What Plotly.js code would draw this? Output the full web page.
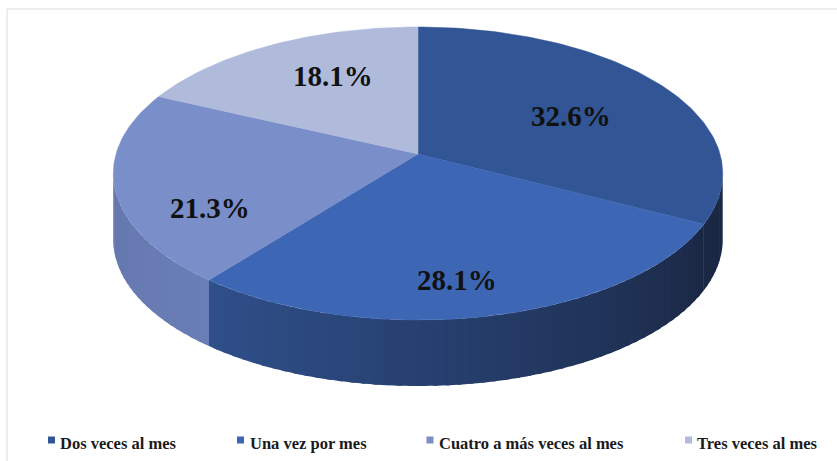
<!DOCTYPE html>
<html>
<head>
<meta charset="utf-8">
<script src="https://cdn.plot.ly/plotly-3.0.1.min.js"></script>
<style>html,body{margin:0;padding:0;background:#fff;}#chart{width:837px;height:461px;}</style>
</head>
<body>
<div id="chart"></div>
<script>
// ---- data ----
const categories = ['Dos veces al mes', 'Una vez por mes', 'Cuatro a más veces al mes', 'Tres veces al mes'];
const values = [32.6, 28.1, 21.3, 18.1];
const percentLabels = ['32.6%', '28.1%', '21.3%', '18.1%'];

// ---- style / geometry config ----
const topColors = ['#325596', '#3D67B4', '#7A8ECA', '#B0BBDC'];
const sideColors = [['#1A2844', '#15223C'], ['#30508C', '#1A2844'], ['#5F71A5', '#6A7EB6'], ['#9AA6C8', '#9AA6C8']];
const geo = {cx: 418, cy: 154, A: 302, B: 143.9, k: 0.133, depth: 66};
const labelPos = [[571, 116], [457, 280], [210, 208], [333, 76]];
const legendSq = [[51.5, 440], [240.5, 440], [430, 440], [688.5, 440]];
const legendTx = [[58, 443], [248, 443], [437, 443], [695, 443]];

function proj(thetaDeg, r, dz) {
  const t = thetaDeg * Math.PI / 180;
  const u = r * Math.sin(t), v = r * Math.cos(t);
  const d = 1 + geo.k * v;
  return [geo.cx + geo.A * u / d, geo.cy - geo.B * v / d + dz];
}
function hexToRgb(h) { return [1, 3, 5].map(i => parseInt(h.substr(i, 2), 16)); }
function mix(c1, c2, f) {
  const a = hexToRgb(c1), b = hexToRgb(c2);
  return 'rgb(' + a.map((x, i) => Math.round(x + (b[i] - x) * f)).join(',') + ')';
}

const total = values.reduce((s, v) => s + v, 0);
const starts = [];
let acc = 0;
values.forEach(v => { starts.push(acc / total * 360); acc += v; });
const ends = values.map((v, i) => starts[i] + v / total * 360);

// visible side range (silhouette points)
const vis1 = Math.acos(-geo.k) * 180 / Math.PI;
const vis2 = 360 - vis1;

const traces = [];
// sides (drawn as overlapping strips to mimic the shading gradient)
values.forEach((v, i) => {
  const a = Math.max(starts[i], vis1), b = Math.min(ends[i], vis2);
  if (b <= a) return;
  const n = Math.max(1, Math.ceil((b - a) / 2));
  for (let s = n - 1; s >= 0; s--) {
    const t0 = a + (b - a) * s / n;
    const t1 = Math.min(b, a + (b - a) * (s + 1) / n + 0.8);
    const xs = [], ys = [];
    const steps = 4;
    for (let j = 0; j <= steps; j++) { const p = proj(t0 + (t1 - t0) * j / steps, 1, 0); xs.push(p[0]); ys.push(p[1]); }
    for (let j = steps; j >= 0; j--) { const p = proj(t0 + (t1 - t0) * j / steps, 1, geo.depth); xs.push(p[0]); ys.push(p[1]); }
    const f = (a + (b - a) * (s + 0.5) / n - starts[i]) / (ends[i] - starts[i]);
    const col = mix(sideColors[i][0], sideColors[i][1], 1 - f);
    traces.push({x: xs, y: ys, type: 'scatter', mode: 'none', fill: 'toself', fillcolor: col,
      hoverinfo: 'skip', showlegend: false});
  }
});
// top faces
values.forEach((v, i) => {
  const xs = [geo.cx], ys = [geo.cy];
  const n = Math.ceil((ends[i] - starts[i]) / 1);
  for (let j = 0; j <= n; j++) { const p = proj(starts[i] + (ends[i] - starts[i]) * j / n, 1, 0); xs.push(p[0]); ys.push(p[1]); }
  xs.push(geo.cx); ys.push(geo.cy);
  traces.push({x: xs, y: ys, type: 'scatter', mode: 'lines', fill: 'toself', fillcolor: topColors[i],
    line: {color: topColors[i], width: 0.5}, name: categories[i], text: percentLabels[i], hoverinfo: 'name+text', showlegend: false});
});
// legend squares
traces.push({x: legendSq.map(p => p[0]), y: legendSq.map(p => p[1]), type: 'scatter', mode: 'markers',
  marker: {symbol: 'square', size: 7, color: topColors}, hoverinfo: 'skip', showlegend: false});

const serif = 'Liberation Serif, Times New Roman, serif';
const annotations = [];
percentLabels.forEach((t, i) => annotations.push({x: labelPos[i][0], y: labelPos[i][1], xref: 'x', yref: 'y', text: '<b>' + t + '</b>',
  showarrow: false, xanchor: 'center', yanchor: 'middle', font: {family: serif, size: 29, color: '#111'}}));
categories.forEach((t, i) => annotations.push({x: legendTx[i][0], y: legendTx[i][1], xref: 'x', yref: 'y', text: '<b>' + t + '</b>',
  showarrow: false, xanchor: 'left', yanchor: 'middle', font: {family: serif, size: 16.5, color: '#1a1a1a'}}));

const layout = {
  width: 837, height: 461, margin: {l: 0, r: 0, t: 0, b: 0},
  paper_bgcolor: '#fff', plot_bgcolor: '#fff',
  font: {family: serif},
  xaxis: {range: [0, 837], visible: false, fixedrange: true},
  yaxis: {range: [461, 0], visible: false, fixedrange: true},
  showlegend: false,
  annotations: annotations,
  shapes: [
    {type: 'line', xref: 'x', yref: 'y', x0: 7, y0: 9, x1: 837, y1: 9, line: {color: '#EDEDED', width: 2}},
    {type: 'line', xref: 'x', yref: 'y', x0: 7, y0: 9, x1: 7, y1: 461, line: {color: '#EDEDED', width: 2}}
  ]
};
Plotly.newPlot('chart', traces, layout, {displayModeBar: false, staticPlot: true});
</script>
</body>
</html>
